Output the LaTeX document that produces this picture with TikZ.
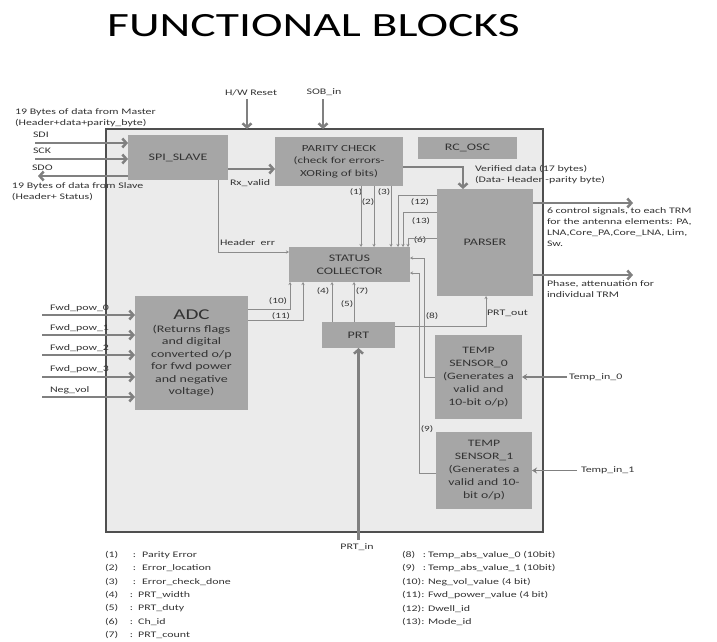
\documentclass[tikz,border=0pt]{standalone}
\usepackage{fontspec}
\setmainfont{Carlito}[FakeStretch=1.4]
\usetikzlibrary{arrows.meta}
\definecolor{boxfill}{HTML}{EBEBEB}
\definecolor{boxline}{HTML}{4F4F4F}
\definecolor{blkfill}{HTML}{A6A6A6}
\definecolor{txtcol}{HTML}{333333}
\definecolor{arrcol}{HTML}{808080}
\definecolor{wirecol}{HTML}{8C8C8C}
\tikzset{
  lab/.style={font=\fontsize{8.5}{11}\selectfont, text=txtcol, inner sep=0pt, outer sep=0pt, align=left},
  labw/.style={lab, anchor=west},
  numlab/.style={font=\fontsize{8}{10}\selectfont, text=txtcol, inner sep=0pt},
  block/.style={fill=blkfill, draw=none, text=txtcol, align=center, inner sep=0pt, outer sep=0pt, font=\fontsize{10}{13}\selectfont},
  bigarrow/.style={draw=arrcol, line width=2.5pt, -{Straight Barb[length=4pt,width=9pt]}},
  medarrow/.style={draw=arrcol, line width=1.6pt, -{Stealth[length=5pt,width=6pt]}},
  wire/.style={draw=wirecol, line width=0.8pt, -{Stealth[length=3pt,width=3pt]}},
}
\begin{document}
\begin{tikzpicture}[x=1pt,y=-1pt]
\useasboundingbox (0,0) rectangle (717,642);

% title
\node[anchor=base west, font=\fontsize{34}{38}\selectfont, text=black, inner sep=0pt] (title) at (107,37) {FUNCTIONAL BLOCKS};

% outer box
\node[fill=boxfill, draw=boxline, line width=1.8pt, minimum width=437pt, minimum height=403pt, inner sep=0pt, outer sep=0pt] (outer) at (324.5,330.5) {};

% blocks
\node[block, minimum width=100pt, minimum height=45pt] (spi) at (178,157.5) {SPI\_SLAVE};
\node[block, minimum width=128pt, minimum height=49pt, font=\fontsize{9.3}{12.5}\selectfont] (parity) at (339,161.5) {PARITY CHECK\\(check for errors-\\XORing of bits)};
\node[block, minimum width=99pt, minimum height=22pt] (rcosc) at (467.5,148) {RC\_OSC};
\node[block, minimum width=96pt, minimum height=107pt] (parser) at (485,242.5) {PARSER};
\node[block, minimum width=121pt, minimum height=35pt] (status) at (349.5,264.5) {STATUS\\COLLECTOR};
\node[block, minimum width=113pt, minimum height=114pt, font=\fontsize{10}{12.5}\selectfont] (adc) at (191.5,353) {{\fontsize{15}{17}\selectfont ADC}\\(Returns flags\\and digital\\converted o/p\\for fwd power\\and negative\\voltage)};
\node[block, minimum width=73pt, minimum height=26pt] (prt) at (358.5,335) {PRT};
\node[block, minimum width=87pt, minimum height=84pt, font=\fontsize{9.8}{13}\selectfont] (temp0) at (478.5,377) {TEMP\\SENSOR\_0\\(Generates a\\valid and\\10-bit o/p)};
\node[block, minimum width=96pt, minimum height=77pt, font=\fontsize{9.8}{13}\selectfont] (temp1) at (484,470.5) {TEMP\\SENSOR\_1\\(Generates a\\valid and 10-\\bit o/p)};

% outside labels
\node[lab] (hwr) at (251,93) {H/W Reset};
\node[lab] (sob) at (324,92) {SOB\_in};
\node[labw] (master) at (15,118) {19 Bytes of data from Master\\(Header+data+parity\_byte)};
\node[labw] (sdil) at (33,135) {SDI};
\node[labw] (sckl) at (33,151) {SCK};
\node[labw] (sdol) at (32,168) {SDO};
\node[labw] (slave) at (12,191.5) {19 Bytes of data from Slave\\(Header+ Status)};
\node[labw] (rxv) at (230,183) {Rx\_valid};
\node[labw] (hdr) at (220,243) {Header\ \ err};
\node[labw] (verif) at (475,175) {Verified data (17 bytes)\\(Data- Header -parity byte)};
\node[labw] (ctrl) at (547,227) {6 control signals, to each TRM\\for the antenna elements: PA,\\LNA,Core\_PA,Core\_LNA, Lim,\\Sw.};
\node[labw] (phase) at (547,289.5) {Phase, attenuation for\\individual TRM};
\node[labw] (fw0l) at (50,308) {Fwd\_pow\_0};
\node[labw] (fw1l) at (50,328) {Fwd\_pow\_1};
\node[labw] (fw2l) at (50,348) {Fwd\_pow\_2};
\node[labw] (fw3l) at (50,369) {Fwd\_pow\_3};
\node[labw] (negl) at (50,390) {Neg\_vol};
\node[labw] (prtout) at (487,313) {PRT\_out};
\node[labw] (tin0) at (569,377) {Temp\_in\_0};
\node[labw] (tin1) at (581,470) {Temp\_in\_1};
\node[lab] (prtin) at (357,547) {PRT\_in};

% number labels
\node[numlab] (n1) at (356,192) {(1)};
\node[numlab] (n2) at (368,202) {(2)};
\node[numlab] (n3) at (384,192) {(3)};
\node[numlab] (n12) at (420,202) {(12)};
\node[numlab] (n13) at (421,221) {(13)};
\node[numlab] (n6) at (420,240) {(6)};
\node[numlab] (n10) at (278,301) {(10)};
\node[numlab] (n11) at (281,316) {(11)};
\node[numlab] (n4) at (323,291) {(4)};
\node[numlab] (n7) at (362,291) {(7)};
\node[numlab] (n5) at (347,304) {(5)};
\node[numlab] (n8) at (432,316) {(8)};
\node[numlab] (n9) at (427,429) {(9)};

% thick arrows
\coordinate (hwrS) at (247,99);
\draw[bigarrow] (hwrS) -- (hwrS |- outer.north);
\coordinate (sobS) at (323,99);
\draw[bigarrow] (sobS) -- (sobS |- outer.north);
\coordinate (sdiS) at (35,143);
\draw[bigarrow] (sdiS) -- (sdiS -| spi.west);
\coordinate (sckS) at (35,159);
\draw[bigarrow] (sckS) -- (sckS -| spi.west);
\coordinate (sdoE) at (38,176);
\draw[bigarrow] (sdoE -| spi.west) -- (sdoE);
\draw[bigarrow] (spi.east |- 0,169) -- (parity.west |- 0,169);
\draw[bigarrow] (parity.east |- 0,167) -| ([xshift=-22pt]parser.north);
\coordinate (out1) at (633,203);
\coordinate (out2) at (633,275);
\draw[bigarrow] (parser.east |- out1) -- (out1);
\draw[bigarrow] (parser.east |- out2) -- (out2);
\foreach \yy [count=\i] in {315,335,355,377,397} {
  \coordinate (fw\i) at (42,\yy);
  \draw[bigarrow] (fw\i) -- (fw\i -| adc.west);
}
\coordinate (prtinS) at (358.5,540);
\draw[bigarrow] (prtinS) -- (prt.south);
\coordinate (t0S) at (567,377);
\draw[medarrow] (t0S) -- (temp0.east);
\coordinate (t1S) at (577,470.5);
\draw[medarrow] (t1S) -- (temp1.east);

% thin wires
\foreach \xx in {361,374,391} {
  \draw[wire] (parity.south -| \xx,0) -- (status.north -| \xx,0);
}
\draw[wire] (parser.west |- 0,195) -| (status.north -| 398,0);
\draw[wire] (parser.west |- 0,212) -| (status.north -| 403,0);
\draw[wire] (parser.west |- 0,238) -| (status.north -| 408,0);
\draw[wire] (spi.south -| 218,0) |- ([yshift=12.5pt]status.west);
\draw[wire] (adc.east |- 0,309) -| (status.south -| 290,0);
\draw[wire] (adc.east |- 0,320) -| (status.south -| 303,0);
\draw[wire] (prt.north -| 332,0) -- (status.south -| 332,0);
\draw[wire] (prt.north -| 354,0) -- (status.south -| 354,0);
\draw[wire] (prt.east |- 0,326) -| (parser.south -| 486,0);
\draw[wire] (temp0.west) -| (424,258) -- (status.east |- 0,258);
\draw[wire] (temp1.west |- 0,473) -| (419,273) -- (status.east |- 0,273);

% legend
\node[labw] (lg1) at (105,555) {\makebox[28pt][l]{(1)}:\hspace{6pt}Parity Error};
\node[labw] (lg2) at (105,568.3) {\makebox[28pt][l]{(2)}:\hspace{6pt}Error\_location};
\node[labw] (lg3) at (105,581.6) {\makebox[28pt][l]{(3)}:\hspace{6pt}Error\_check\_done};
\node[labw] (lg4) at (105,594.9) {\makebox[25pt][l]{(4)}:\hspace{5pt}PRT\_width};
\node[labw] (lg5) at (105,608.2) {\makebox[25pt][l]{(5)}:\hspace{5pt}PRT\_duty};
\node[labw] (lg6) at (105,621.5) {\makebox[25pt][l]{(6)}:\hspace{5pt}Ch\_id};
\node[labw] (lg7) at (105,634.8) {\makebox[25pt][l]{(7)}:\hspace{5pt}PRT\_count};
\node[labw] (lg8) at (402,555) {\makebox[21pt][l]{(8)}\makebox[5pt][l]{:}Temp\_abs\_value\_0 (10bit)};
\node[labw] (lg9) at (402,568.4) {\makebox[21pt][l]{(9)}\makebox[5pt][l]{:}Temp\_abs\_value\_1 (10bit)};
\node[labw] (lg10) at (402,581.8) {\makebox[26pt][l]{(10):}Neg\_vol\_value (4 bit)};
\node[labw] (lg11) at (402,595.2) {\makebox[26pt][l]{(11):}Fwd\_power\_value (4 bit)};
\node[labw] (lg12) at (402,608.6) {\makebox[26pt][l]{(12):}Dwell\_id};
\node[labw] (lg13) at (402,622) {\makebox[26pt][l]{(13):}Mode\_id};
\end{tikzpicture}
\end{document}
